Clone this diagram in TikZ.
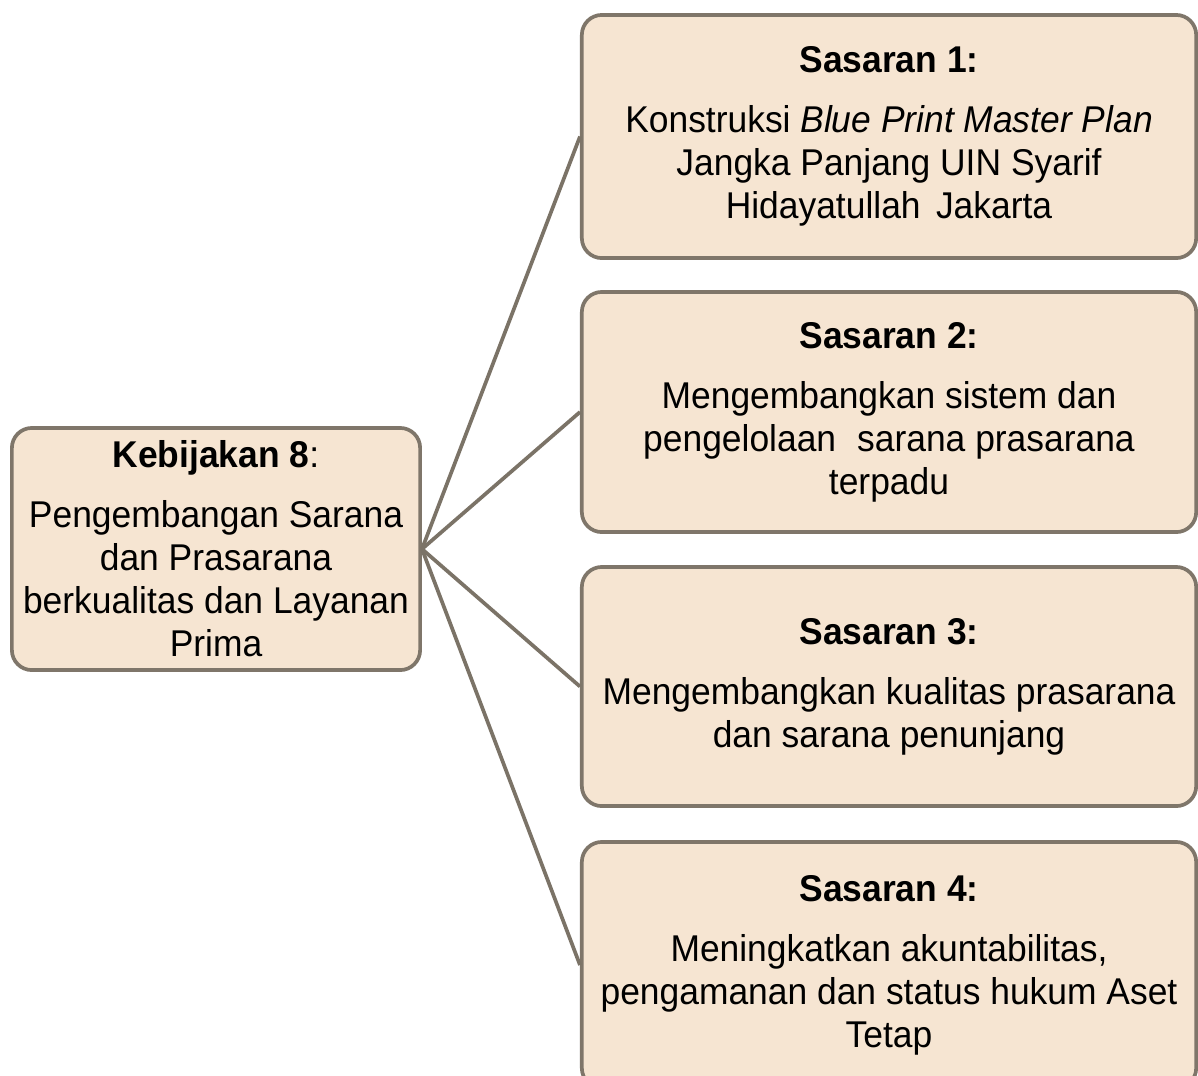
\documentclass[tikz,border=0pt]{standalone}
\usepackage{fontspec}
\setmainfont{Liberation Sans}[FakeStretch=0.95]
\definecolor{boxfill}{HTML}{F6E5D2}
\definecolor{boxline}{HTML}{7F766A}
\definecolor{linkline}{HTML}{7B7367}
\begin{document}
\begin{tikzpicture}[x=0.01cm,y=-0.01cm,
  goalbox/.style={draw=boxline, fill=boxfill, line width=1.05pt,
    rounded corners=0.2cm, align=center, inner sep=0pt,
    font=\fontsize{10.6}{12.23}\selectfont},
  link/.style={draw=linkline, line width=1.05pt}]
  \clip (0,0) rectangle (1198,1075);
  \fill[white] (0,0) rectangle (1198,1075);

  % policy box
  \node[goalbox, minimum width=4.08cm, minimum height=2.42cm] (pol) at (216,549)
    {\textbf{Kebijakan 8}:\\[4.8pt]
     Pengembangan Sarana\\dan Prasarana\\berkualitas dan Layanan\\Prima};

  % target boxes
  \node[goalbox, minimum width=6.14cm, minimum height=2.43cm] (s1) at (889,136.5)
    {\textbf{Sasaran 1:}\\[4.8pt]
     Konstruksi \textit{Blue Print Master Plan}\\Jangka Panjang UIN Syarif\\Hidayatullah\hspace{0.15em} Jakarta};
  \node[goalbox, minimum width=6.14cm, minimum height=2.40cm] (s2) at (889,412)
    {\textbf{Sasaran 2:}\\[4.8pt]
     Mengembangkan sistem dan\\pengelolaan\hspace{0.3em} sarana prasarana\\terpadu};
  \node[goalbox, minimum width=6.14cm, minimum height=2.39cm] (s3) at (889,686.5)
    {\textbf{Sasaran 3:}\\[4.8pt]
     Mengembangkan kualitas prasarana\\dan sarana penunjang};
  \node[goalbox, minimum width=6.14cm, minimum height=2.46cm] (s4) at (889,965)
    {\textbf{Sasaran 4:}\\[4.8pt]
     Meningkatkan akuntabilitas,\\pengamanan dan status hukum Aset\\Tetap};

  % connectors
  \foreach \t in {s1,s2,s3,s4}
    \draw[link] (pol.east) -- (\t.west);
\end{tikzpicture}
\end{document}
